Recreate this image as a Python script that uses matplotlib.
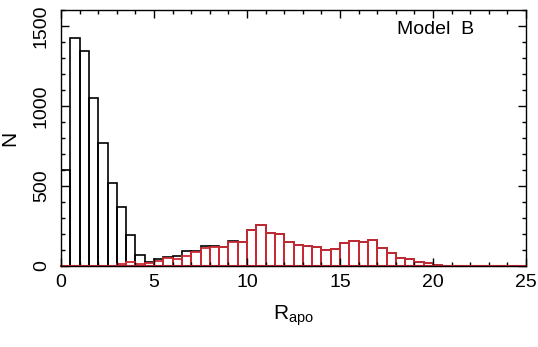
import numpy as np
import matplotlib
matplotlib.use('Agg')
import matplotlib.pyplot as plt
from matplotlib.ticker import MultipleLocator

plt.rcParams['font.family'] = ['Liberation Sans', 'DejaVu Sans']
plt.rcParams['mathtext.fontset'] = 'custom'
plt.rcParams['mathtext.rm'] = 'Liberation Sans'

# bin edges every 0.5 from 0 to 25
bin_width = 0.5
bin_left = np.arange(0, 25, bin_width)

# all orbits (black), counts per bin
black_counts = [600, 1423, 1344, 1048, 767, 517, 371, 196, 71, 28,
                42, 58, 65, 95, 96, 127, 125, 121, 158, 152,
                225, 256, 208, 199, 151, 133, 125, 117, 100, 104,
                142, 156, 150, 162, 110, 79, 48, 42, 27, 21,
                8, 0, 0, 0, 0, 0, 0, 0, 0, 0]

# subset (red)
red_counts = [0, 0, 0, 0, 0, 0, 10, 22, 10, 18,
              34, 50, 45, 65, 88, 115, 121, 116, 152, 148,
              222, 256, 208, 199, 151, 133, 125, 117, 100, 104,
              142, 156, 150, 162, 110, 79, 48, 42, 27, 21,
              8, 0, 0, 0, 0, 0, 0, 0, 0, 0]

fig = plt.figure(figsize=(5.38, 3.47), dpi=100)
ax = fig.add_axes([0.1134, 0.2334, 0.8643, 0.7378])

ax.bar(bin_left, black_counts, width=bin_width, align='edge',
       facecolor='none', edgecolor='black', linewidth=1.2)
ax.bar(bin_left, red_counts, width=bin_width, align='edge',
       facecolor='none', edgecolor='#cc2a35', linewidth=1.3)
# red baseline along the whole axis
ax.plot([0, 25], [0, 0], color='#cc2a35', linewidth=1.5, clip_on=False)

ax.set_xlim(0, 25)
ax.set_ylim(0, 1600)
ax.xaxis.set_major_locator(MultipleLocator(5))
ax.xaxis.set_minor_locator(MultipleLocator(1))
ax.yaxis.set_major_locator(MultipleLocator(500))
ax.yaxis.set_minor_locator(MultipleLocator(100))
ax.tick_params(which='both', direction='in', top=True, right=True,
               width=1.0, labelsize=14)
ax.tick_params(which='major', length=6)
ax.tick_params(which='minor', length=3)
ax.tick_params(axis='x', which='major', pad=6)
ax.tick_params(axis='y', which='major', pad=8)
for lab in ax.get_yticklabels():
    lab.set_rotation(90)
    lab.set_va('center')
for s in ax.spines.values():
    s.set_linewidth(1.0)

ax.set_xlabel(r'$\mathregular{R_{apo}}$', fontsize=15, labelpad=9)
ax.set_ylabel('N', fontsize=15, labelpad=10)
ax.text(0.723, 0.922, 'Model  B', transform=ax.transAxes, fontsize=14,
        ha='left', va='center')

fig.savefig('out.png', dpi=100)
